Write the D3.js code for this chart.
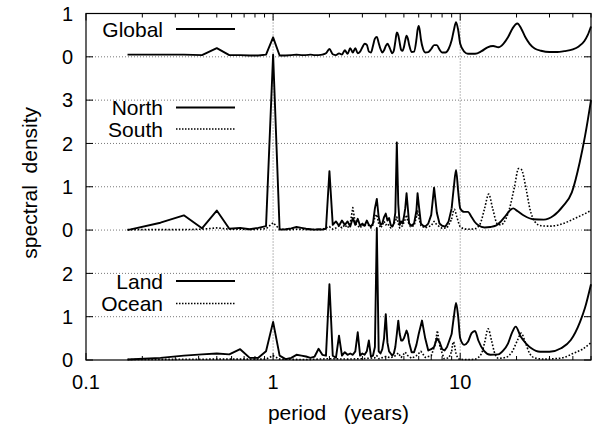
<!DOCTYPE html>
<html>
<head>
<meta charset="utf-8">
<script src="https://cdn.jsdelivr.net/npm/d3@7"></script>
<style>
  html, body { margin: 0; padding: 0; background: #fff; }
  svg { display: block; }
  text { font-family: "Liberation Sans", Arial, Helvetica, sans-serif; fill: #000; }
</style>
</head>
<body>
<svg id="chart" width="595" height="428"></svg>
<script>
// Spectral density versus period (years); each series is [period, density].
const globalSpectrum = [
  [0.1667,0.05],[0.25,0.05],[0.3333,0.05],[0.4167,0.04],[0.5,0.2],[0.5833,0.04],[0.6667,0.04],
  [0.75,0.03],[0.8333,0.03],[0.9167,0.05],[1.0,0.45],[1.0833,0.03],[1.1667,0.03],[1.25,0.04],
  [1.3333,0.05],[1.4167,0.04],[1.5,0.04],[1.5833,0.05],[1.6667,0.04],[1.75,0.04],[1.8333,0.05],
  [1.9167,0.08],[2.0,0.18],[2.0833,0.06],[2.1667,0.04],[2.25,0.08],[2.3333,0.05],[2.4167,0.15],
  [2.5,0.07],[2.5833,0.2],[2.6667,0.1],[2.75,0.2],[2.8333,0.08],[2.9167,0.12],[3.0,0.22],
  [3.0833,0.3],[3.1667,0.28],[3.25,0.12],[3.3333,0.1],[3.4167,0.25],[3.5,0.42],[3.5833,0.46],
  [3.6667,0.32],[3.75,0.18],[3.8333,0.1],[3.9167,0.15],[4.0,0.25],[4.0833,0.3],[4.1667,0.24],
  [4.25,0.15],[4.3333,0.08],[4.4167,0.14],[4.5,0.35],[4.5833,0.56],[4.6667,0.5],[4.75,0.32],
  [4.8333,0.16],[4.9167,0.14],[5.0,0.22],[5.0833,0.38],[5.1667,0.49],[5.25,0.42],[5.3333,0.28],
  [5.5,0.11],[5.6667,0.12],[5.8333,0.4],[5.9167,0.62],[6.0,0.71],[6.0833,0.6],[6.1667,0.4],
  [6.3333,0.18],[6.5,0.1],[6.75,0.11],[7.0,0.18],[7.25,0.27],[7.5,0.27],[7.75,0.17],[8.0,0.1],
  [8.3333,0.1],[8.6667,0.18],[9.0,0.38],[9.25,0.62],[9.5,0.8],[9.75,0.62],[10,0.3],[10.5,0.12],
  [11,0.07],[12,0.07],[13,0.13],[14,0.22],[15,0.25],[16,0.22],[17,0.3],[18,0.45],[19,0.65],
  [20.2,0.77],[21.2,0.65],[22.3,0.45],[23.5,0.3],[25,0.19],[27,0.14],[30,0.11],[33,0.11],
  [36,0.13],[40,0.17],[43,0.24],[46,0.36],[48,0.5],[50,0.7]
];

const northSpectrum = [
  [0.1667,0.0],[0.25,0.17],[0.3333,0.34],[0.4167,0.04],[0.5,0.45],[0.5833,0.03],[0.6667,0.05],
  [0.75,0.02],[0.8333,0.05],[0.9167,0.09],[1.0,4.05],[1.0833,0.01],[1.1667,0.02],[1.25,0.04],
  [1.3333,0.07],[1.4167,0.05],[1.5,0.03],[1.5833,0.02],[1.6667,0.01],[1.75,0.02],[1.8333,0.01],
  [1.9167,0.03],[2.0,1.36],[2.0833,0.12],[2.1667,0.2],[2.25,0.1],[2.3333,0.22],[2.4167,0.12],
  [2.5,0.2],[2.5833,0.08],[2.6667,0.28],[2.75,0.12],[2.8333,0.26],[2.9167,0.1],[3.0,0.15],
  [3.0833,0.1],[3.1667,0.22],[3.25,0.12],[3.3333,0.08],[3.4167,0.15],[3.5,0.5],[3.5833,0.72],
  [3.6667,0.3],[3.75,0.12],[3.8333,0.15],[3.9167,0.3],[4.0,0.38],[4.0833,0.22],[4.1667,0.28],
  [4.25,0.12],[4.3333,0.08],[4.4167,0.15],[4.5,0.4],[4.5833,2.02],[4.6667,0.6],[4.75,0.12],
  [4.8333,0.2],[4.9167,0.15],[5.0,0.3],[5.0833,0.5],[5.1667,0.85],[5.25,0.5],[5.3333,0.15],
  [5.5,0.1],[5.6667,0.15],[5.8333,0.45],[5.9167,0.85],[6.0,0.6],[6.1667,0.15],[6.3333,0.1],
  [6.5,0.08],[6.75,0.15],[7.0,0.35],[7.25,0.98],[7.5,0.4],[7.75,0.15],[8.0,0.1],[8.3333,0.08],
  [8.6667,0.2],[9.0,0.5],[9.25,1.0],[9.5,1.39],[9.75,0.9],[10,0.5],[10.5,0.42],[11,0.42],
  [11.5,0.3],[12,0.18],[12.5,0.11],[13.5,0.06],[14.5,0.07],[15.5,0.1],[16.5,0.2],[17.5,0.33],
  [18.5,0.46],[19.2,0.5],[20.2,0.44],[22,0.33],[24.5,0.25],[28,0.24],[31.5,0.33],[35.5,0.56],
  [39.5,0.87],[43.5,1.56],[46.5,2.18],[50,3.0]
];

const southSpectrum = [
  [0.1667,0.01],[0.25,0.01],[0.3333,0.01],[0.4167,0.02],[0.5,0.05],[0.5833,0.02],[0.6667,0.02],
  [0.75,0.01],[0.8333,0.02],[0.9167,0.03],[1.0,0.17],[1.0833,0.02],[1.1667,0.01],[1.25,0.01],
  [1.3333,0.02],[1.5,0.01],[1.6667,0.01],[1.8333,0.02],[2.0,0.08],[2.0833,0.02],[2.1667,0.05],
  [2.25,0.1],[2.3333,0.05],[2.4167,0.12],[2.5,0.05],[2.5833,0.15],[2.6667,0.52],[2.75,0.15],
  [2.8333,0.1],[2.9167,0.05],[3.0,0.12],[3.0833,0.08],[3.1667,0.18],[3.25,0.1],[3.3333,0.05],
  [3.4167,0.12],[3.5,0.3],[3.5833,0.36],[3.6667,0.15],[3.75,0.05],[3.8333,0.1],[3.9167,0.2],
  [4.0,0.12],[4.0833,0.15],[4.1667,0.1],[4.25,0.05],[4.3333,0.08],[4.5,0.2],[4.5833,0.3],
  [4.6667,0.15],[4.75,0.05],[4.9167,0.1],[5.0833,0.25],[5.1667,0.35],[5.25,0.2],[5.4167,0.08],
  [5.6667,0.1],[5.8333,0.3],[5.9167,0.44],[6.0,0.3],[6.1667,0.1],[6.5,0.05],[7.0,0.1],
  [7.25,0.2],[7.5,0.12],[8.0,0.04],[8.5,0.05],[9.0,0.25],[9.3,0.48],[9.6,0.3],[10,0.08],
  [10.5,0.03],[11,0.02],[12,0.03],[12.8,0.15],[13.5,0.5],[14.2,0.83],[14.9,0.5],[15.8,0.14],
  [16.5,0.12],[17.5,0.25],[18.3,0.48],[19.5,1.0],[20.5,1.42],[21.2,1.4],[22.5,0.95],[23.6,0.48],
  [25,0.2],[27,0.1],[30,0.09],[33,0.11],[37,0.18],[41,0.27],[45,0.35],[50,0.45]
];

const landSpectrum = [
  [0.1667,0.01],[0.25,0.05],[0.3333,0.1],[0.4167,0.13],[0.5,0.15],[0.5833,0.13],[0.6667,0.25],
  [0.75,0.05],[0.8333,0.05],[0.9167,0.2],[1.0,0.88],[1.0833,0.1],[1.1667,0.02],[1.25,0.05],
  [1.3333,0.12],[1.4167,0.1],[1.5,0.08],[1.5833,0.05],[1.6667,0.08],[1.75,0.26],[1.8333,0.12],
  [1.9167,0.1],[2.0,1.75],[2.0833,0.1],[2.1667,0.05],[2.25,0.56],[2.3333,0.1],[2.4167,0.18],
  [2.5,0.12],[2.5833,0.15],[2.6667,0.12],[2.75,0.2],[2.8333,0.64],[2.9167,0.1],[3.0,0.15],
  [3.0833,0.12],[3.1667,0.2],[3.25,0.45],[3.3333,0.08],[3.4167,0.1],[3.5,0.3],[3.5833,3.05],
  [3.6667,0.2],[3.75,0.15],[3.8333,0.25],[3.9167,0.5],[4.0,1.06],[4.0833,0.4],[4.1667,0.2],
  [4.25,0.15],[4.3333,0.1],[4.4167,0.15],[4.5,0.3],[4.5833,0.6],[4.6667,0.91],[4.75,0.6],
  [4.8333,0.45],[4.9167,0.45],[5.0,0.5],[5.1667,0.68],[5.25,0.6],[5.3333,0.4],[5.5,0.18],
  [5.6667,0.18],[5.8333,0.35],[6.0,0.6],[6.25,0.91],[6.5,0.5],[6.75,0.22],[7.0,0.25],
  [7.25,0.3],[7.5,0.5],[7.75,0.42],[8.0,0.25],[8.25,0.22],[8.5,0.3],[8.75,0.45],[9.0,0.6],
  [9.25,1.0],[9.5,1.32],[9.75,1.0],[10,0.5],[10.5,0.35],[11,0.42],[11.5,0.62],[12,0.67],
  [12.5,0.45],[13.4,0.21],[14.5,0.12],[16,0.13],[17,0.22],[18,0.38],[19,0.65],[19.8,0.77],
  [21,0.55],[22.5,0.38],[24,0.27],[26.7,0.19],[30,0.19],[34.6,0.27],[39,0.46],[43.7,0.88],
  [46.4,1.2],[50,1.75]
];

const oceanSpectrum = [
  [0.1667,0.01],[0.5,0.02],[0.9167,0.02],[1.0,0.1],[1.0833,0.02],[1.5,0.01],[2.0,0.03],
  [2.5,0.02],[3.0,0.03],[3.5,0.05],[3.5833,0.1],[3.6667,0.03],[4.0,0.08],[4.25,0.05],[4.5,0.1],
  [4.6667,0.16],[4.8333,0.06],[5.0833,0.18],[5.25,0.1],[5.5,0.04],[5.8333,0.1],[6.1667,0.2],
  [6.5,0.06],[7.0,0.1],[7.3333,0.35],[7.55,0.68],[7.8,0.3],[8.2,0.03],[8.7,0.05],[9.0,0.2],
  [9.2,0.42],[9.5,0.15],[9.9,0.02],[11,0.01],[12,0.02],[13,0.15],[13.5,0.4],[14.1,0.72],
  [14.7,0.45],[15.3,0.15],[16,0.04],[17.5,0.06],[19,0.2],[20.2,0.45],[21.2,0.62],[22.3,0.4],
  [23.5,0.15],[25,0.05],[28,0.02],[32,0.03],[36,0.06],[40,0.15],[45,0.25],[50,0.4]
];

// Axis ticks and labels; the y axis runs over three stacked panels.
const xTickValues = [0.1, 1, 10];
const xTickLabels = ["0.1", "1", "10"];
const yTickValues = [0, 1, 2, 3, 4, 5, 6, 7, 8];
const yTickLabels = ["0", "1", "2", "0", "1", "2", "3", "0", "1"];

// Panels: legend entries, baseline lift, and the period beyond which the
// spectrum is resolved finely enough to be drawn as a smooth curve.
const panels = [
  { offset: 7, series: [ { name: "Global", data: globalSpectrum, dotted: false, smoothFrom: 1.5 } ], legendY: [29] },
  { offset: 3, series: [ { name: "North", data: northSpectrum, dotted: false, smoothFrom: 9 },
                         { name: "South", data: southSpectrum, dotted: true, smoothFrom: 9 } ], legendY: [107.5, 129] },
  { offset: 0, series: [ { name: "Land",  data: landSpectrum,  dotted: false, smoothFrom: 9 },
                         { name: "Ocean", data: oceanSpectrum, dotted: true, smoothFrom: 9 } ], legendY: [281, 303.5] }
];

const svg = d3.select("#chart");
const plotLeft = 86, plotRight = 591, plotTop = 13.5, plotBottom = 360;

const x = d3.scaleLog().domain([0.1, 50]).range([plotLeft, plotRight]);
const y = d3.scaleLinear().domain([0, 8]).range([plotBottom, plotTop]);

// Dotted grid lines
const grid = svg.append("g");
grid.selectAll("line.h")
  .data(yTickValues.filter(v => v > 0 && v < 8))
  .join("line")
  .attr("x1", plotLeft).attr("x2", plotRight)
  .attr("y1", d => y(d)).attr("y2", d => y(d))
  .attr("stroke", "#555").attr("stroke-width", 0.8).attr("stroke-dasharray", "1,2");
grid.selectAll("line.v")
  .data([1, 10])
  .join("line")
  .attr("x1", d => x(d)).attr("x2", d => x(d))
  .attr("y1", plotTop).attr("y2", plotBottom)
  .attr("stroke", "#555").attr("stroke-width", 0.8).attr("stroke-dasharray", "1,2");

// Data lines: straight segments through the coarse short-period samples,
// a monotone curve through the densely resolved long-period part.
const plot = svg.append("g");
panels.forEach(p => {
  const straight = d3.line()
    .x(d => x(d[0]))
    .y(d => y(d[1] + p.offset));
  const smooth = d3.line()
    .x(d => x(d[0]))
    .y(d => y(d[1] + p.offset))
    .curve(d3.curveMonotoneX);
  p.series.forEach(s => {
    const g = plot.append("g")
      .attr("fill", "none")
      .attr("stroke", "#000")
      .attr("stroke-width", s.dotted ? 1.6 : 1.9)
      .attr("stroke-dasharray", s.dotted ? "1.6,1.8" : null)
      .attr("stroke-linejoin", "round");
    g.append("path").datum(s.data.filter(d => d[0] <= s.smoothFrom)).attr("d", straight);
    g.append("path").datum(s.data.filter(d => d[0] >= s.smoothFrom)).attr("d", smooth);
  });
});

// Frame
svg.append("rect")
  .attr("x", plotLeft).attr("y", plotTop)
  .attr("width", plotRight - plotLeft).attr("height", plotBottom - plotTop)
  .attr("fill", "none").attr("stroke", "#000").attr("stroke-width", 1.2);

// X axis: log ticks pointing inward on bottom and top
const minorX = [];
[0.1, 1, 10].forEach(dec => {
  for (let k = 2; k <= 9; k++) { const v = dec * k; if (v <= 50) minorX.push(v); }
});
const ticks = svg.append("g").attr("stroke", "#000").attr("stroke-width", 1);
[[plotBottom, -1], [plotTop, 1]].forEach(([yy, dir]) => {
  ticks.selectAll(null).data(minorX).join("line")
    .attr("x1", d => x(d)).attr("x2", d => x(d))
    .attr("y1", yy).attr("y2", yy + dir * 4);
  ticks.selectAll(null).data(xTickValues).join("line")
    .attr("x1", d => x(d)).attr("x2", d => x(d))
    .attr("y1", yy).attr("y2", yy + dir * 7);
});
// Y axis ticks on both sides
[[plotLeft, 1], [plotRight, -1]].forEach(([xx, dir]) => {
  ticks.selectAll(null).data(yTickValues).join("line")
    .attr("x1", xx).attr("x2", xx + dir * 7)
    .attr("y1", d => y(d)).attr("y2", d => y(d));
});

// Tick labels
svg.append("g").selectAll("text").data(xTickValues).join("text")
  .attr("x", d => x(d)).attr("y", 389)
  .attr("text-anchor", "middle").attr("font-size", 20)
  .text((d, i) => xTickLabels[i]);
svg.append("g").selectAll("text").data(yTickValues).join("text")
  .attr("x", 73).attr("y", d => y(d))
  .attr("dy", "0.36em")
  .attr("text-anchor", "end").attr("font-size", 20)
  .text((d, i) => yTickLabels[i]);

// Axis titles
svg.append("text")
  .attr("x", (plotLeft + plotRight) / 2).attr("y", 420)
  .attr("text-anchor", "middle").attr("font-size", 21)
  .style("white-space", "pre")
  .text("period   (years)");
svg.append("text")
  .attr("transform", `translate(37,${(plotTop + plotBottom) / 2 - 4}) rotate(-90)`)
  .attr("text-anchor", "middle").attr("font-size", 21)
  .style("white-space", "pre")
  .text("spectral  density");

// Legends
const legend = svg.append("g");
panels.forEach(p => {
  p.series.forEach((s, i) => {
    const ly = p.legendY[i];
    legend.append("text")
      .attr("x", 163).attr("y", ly).attr("dy", "0.36em")
      .attr("text-anchor", "end").attr("font-size", 21)
      .text(s.name);
    legend.append("line")
      .attr("x1", 176).attr("x2", 235).attr("y1", ly).attr("y2", ly)
      .attr("stroke", "#000")
      .attr("stroke-width", s.dotted ? 1.3 : 1.9)
      .attr("stroke-dasharray", s.dotted ? "1.5,1.5" : null);
  });
});
</script>
</body>
</html>
